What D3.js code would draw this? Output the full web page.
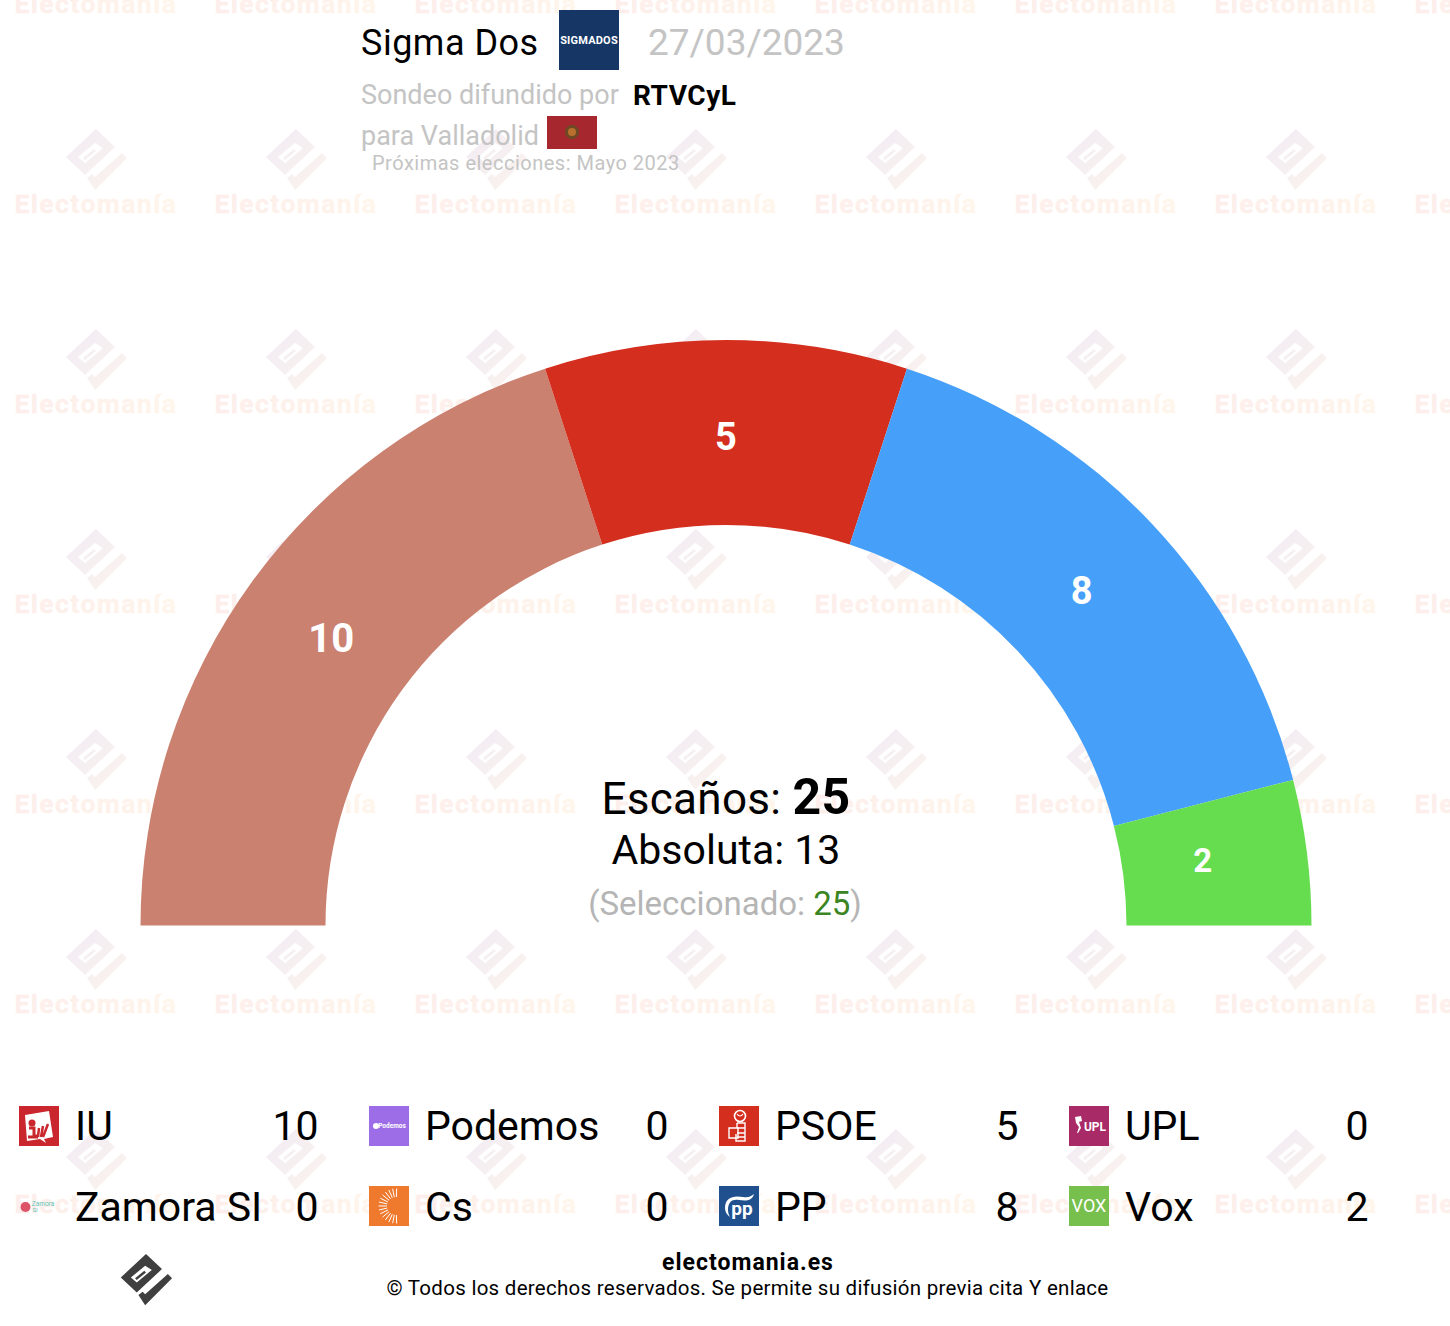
<!DOCTYPE html>
<html><head><meta charset="utf-8">
<script src="https://cdn.jsdelivr.net/npm/d3@7"></script>
<style>html,body{margin:0;padding:0;background:#fff}svg{display:block}text{font-family:Roboto,sans-serif}</style>
</head><body><div id="c"></div>
<script>
const parties=["IU","Podemos","PSOE","UPL","Zamora SI","Cs","PP","Vox"];
const seats=[10,0,5,0,0,0,8,2];
const arcColors=["#cb8170","#9c6ee8","#d42e1f","#a82a66","#ffffff","#ef7a2e","#469ff9","#66dc4f"];
const logoColors=["#c9262d","#9d6de8","#d42e1f","#a82a66","#ffffff","#ef7a2e","#21508f","#78c04e"];
const W=1450,H=1326;
const svg=d3.select("#c").append("svg").attr("width",W).attr("height",H).attr("viewBox",[0,0,W,H]);
const defs=svg.append("defs");
const gT=defs.append("linearGradient").attr("id","gt");
gT.append("stop").attr("offset",0).attr("stop-color","#fdeeec");gT.append("stop").attr("offset",1).attr("stop-color","#fef5eb");
const gL=defs.append("linearGradient").attr("id","gl").attr("x1",0).attr("y1",0).attr("x2",1).attr("y2",1);
gL.append("stop").attr("offset",0).attr("stop-color","#f1ecf6");gL.append("stop").attr("offset",1).attr("stop-color","#fcf3ec");
const logoPath="M0,-31 L19,-13 L-11,15 L-30,-3 Z M-18,-3 L-11,3 L7,-12 L-1,-17 Z M-13,-2 L-11,0 L0,-9 L-2,-11 Z M-9,18 L-4,14 L-1,17 L26,-7 L31,-2 L-1,30 Z";
const wm=svg.append("g");
for(let r=0;r<7;r++)for(let c=0;c<8;c++){
  const x=96+c*200,y=-40+r*200;
  wm.append("path").attr("d",logoPath).attr("fill-rule","evenodd").attr("fill","url(#gl)").attr("transform",`translate(${x},${y})`);
  wm.append("text").attr("x",x).attr("y",y+53).attr("text-anchor","middle").attr("font-size",26.5).attr("font-weight",700).attr("letter-spacing",1.45).attr("stroke","url(#gt)").attr("stroke-width",.5).attr("fill","url(#gt)").text("Electomanía");
}
// hemicycle
const cx=726,cy=925.5;
const g=svg.append("g").attr("transform",`translate(${cx},${cy})`);
const pie=d3.pie().value(d=>d.v).sort(null).startAngle(-Math.PI/2).endAngle(Math.PI/2);
const data=parties.map((p,i)=>({p,v:seats[i],c:arcColors[i]}));
const arc=d3.arc().innerRadius(400.5).outerRadius(585.5);
const labelArc=d3.arc().innerRadius(391).outerRadius(585);
const smallArc=d3.arc().innerRadius(376).outerRadius(585);
const labelSize=v=>v>=5?(v>=10?40:38):33;
const arcs=pie(data).filter(a=>a.data.v>0);
g.selectAll("path.s").data(arcs).join("path").attr("class","s").attr("d",arc).attr("fill",d=>d.data.c);
g.selectAll("text.s").data(arcs).join("text").attr("class","s")
 .attr("transform",d=>`translate(${(d.data.v<=2?smallArc:labelArc).centroid(d)})`).attr("text-anchor","middle")
 .attr("dy",d=>d.data.v<=2?"0.2em":"0.33em")
 .attr("fill","#fff").attr("font-weight",700).attr("font-size",d=>labelSize(d.data.v)).text(d=>d.data.v);
// centre text
const total=d3.sum(seats);
const t1=svg.append("text").attr("x",726).attr("y",814).attr("text-anchor","middle").attr("font-size",44).attr("letter-spacing",.3);
t1.append("tspan").text("Escaños: ");t1.append("tspan").attr("font-weight",700).attr("font-size",50).text(total);
svg.append("text").attr("x",726).attr("y",864).attr("text-anchor","middle").attr("font-size",41).text("Absoluta: 13");
const t3=svg.append("text").attr("x",725).attr("y",915).attr("text-anchor","middle").attr("font-size",33).attr("fill","#b5b5b5");
t3.append("tspan").text("(Seleccionado: ");t3.append("tspan").attr("fill","#3b8522").text(total);t3.append("tspan").text(")");
// header
const tx=(x,y,s,o={})=>svg.append("text").attr("x",x).attr("y",y).attr("font-size",o.size||24).attr("fill",o.fill||"#000").attr("font-weight",o.w||400).attr("text-anchor",o.a||"start").attr("letter-spacing",o.ls||0).text(s);
tx(361,55,"Sigma Dos",{size:36,ls:.5});
svg.append("rect").attr("x",559).attr("y",10).attr("width",60).attr("height",60).attr("fill","#163765");
tx(589,44,"SIGMADOS",{size:11,fill:"#fff",w:700,a:"middle",ls:.2});
tx(648,55,"27/03/2023",{size:37,fill:"#c4c4c4"});
tx(361,104,"Sondeo difundido por",{size:27,fill:"#c4c4c4"});
tx(633,105,"RTVCyL",{size:28,w:700,ls:.5});
tx(361,145,"para Valladolid",{size:27,fill:"#c4c4c4"});
svg.append("rect").attr("x",547).attr("y",116).attr("width",50).attr("height",33).attr("fill","#a6272d");
svg.append("circle").attr("cx",572).attr("cy",132).attr("r",7).attr("fill","#6e4a24");
svg.append("circle").attr("cx",572).attr("cy",132).attr("r",4).attr("fill","#b9702f");
tx(372,170,"Próximas elecciones: Mayo 2023",{size:20,fill:"#c4c4c4",ls:.5});
// legend
const colX=[19,369,719,1069],rowY=[1106,1186],rowBase=[34,34.5];
const leg=svg.append("g");
parties.forEach((p,i)=>{
  const row=Math.floor(i/4),x=colX[i%4],y=rowY[row];
  const it=leg.append("g").attr("transform",`translate(${x},${y})`);
  if(p!=="Zamora SI") it.append("rect").attr("width",40).attr("height",40).attr("fill",logoColors[i]);
  drawLogo(it,p);
  it.append("text").attr("x",56).attr("y",rowBase[row]).attr("font-size",41).text(p);
  it.append("text").attr("x",299.5).attr("y",rowBase[row]).attr("font-size",41).attr("text-anchor","end").text(seats[i]);
});
function drawLogo(s,p){
  const t=(x,y,str,size,o={})=>s.append("text").attr("x",x).attr("y",y).attr("font-size",size).attr("font-weight",o.w||700).attr("text-anchor","middle").attr("fill",o.f||"#fff").text(str);
  const line=(d,c,w)=>s.append("path").attr("d",d).attr("fill","none").attr("stroke",c).attr("stroke-width",w);
  if(p==="IU"){
    s.append("path").attr("d","M6,9 L30,5 L34,31 L25,33 L27,37 L21,33 L8,35 Z").attr("fill","#fff");
    const r="#c9262d";
    s.append("circle").attr("cx",13).attr("cy",17).attr("r",3.5).attr("fill",r);
    line("M10,22 H15 V30 H19 M9,31 H19",r,3);
    line("M20,22 L19,31 M24,20 L22,31 M29,18 L24,31",r,2.5);
  }
  if(p==="Podemos"){s.append("circle").attr("cx",7).attr("cy",20).attr("r",3).attr("fill","#fff");t(23,22,"Podemos",6.5);}
  if(p==="PSOE"){
    const w="#fff";
    s.append("circle").attr("cx",21).attr("cy",10).attr("r",5.5).attr("fill","none").attr("stroke",w).attr("stroke-width",1.6);
    line("M18,8 Q21,12 24,8",w,1.2);
    line("M18,17 H26 V35 H17 V28 M18,17 V22 M18,22 H26 M18,27 H26 M18,31 H26",w,1.4);
    line("M10,22 H19 V32 H10 Z",w,1.4);
  }
  if(p==="UPL"){t(26,25,"UPL",12);s.append("path").attr("d","M6,11 L12,10 L13,15 L10,16 L12,22 L9,27 L8,27 L10,21 L7,17 Z").attr("fill","#fff");}
  if(p==="Zamora SI"){
    s.append("circle").attr("cx",6.5).attr("cy",21).attr("r",5).attr("fill","#dd5468");
    t(24,20,"Zamora",6.5,{f:"#5fc5b5",w:400});t(16,26,"SI",6,{f:"#5fc5b5",w:400});
  }
  if(p==="Cs"){d3.range(-7,8).forEach(k=>{const a=Math.PI+k*0.23;s.append("line").attr("x1",27+9*Math.cos(a)).attr("y1",20+9*Math.sin(a)).attr("x2",27+17.5*Math.cos(a)).attr("y2",20+17.5*Math.sin(a)).attr("stroke","#fff").attr("stroke-width",1);});}
  if(p==="PP"){s.append("path").attr("d","M6,22 C6,12 14,9 24,11 C30,12 32,10 35,8 C33,15 27,15 20,14 C13,13 9,16 9,24 C9,27 10,29 11,31 C8,29 6,26 6,22 Z").attr("fill","#fff");t(23,29,"pp",19);}
  if(p==="Vox"){t(20,26,"VOX",18,{w:400});}
}
// footer
svg.append("path").attr("d",logoPath).attr("fill-rule","evenodd").attr("fill","#3f3f3f").attr("transform","translate(146,1280) scale(.84)");
tx(748,1270,"electomania.es",{size:23,w:700,a:"middle",ls:1});
tx(747.5,1295,"© Todos los derechos reservados. Se permite su difusión previa cita Y enlace",{size:20.5,a:"middle",ls:.28});
</script></body></html>
